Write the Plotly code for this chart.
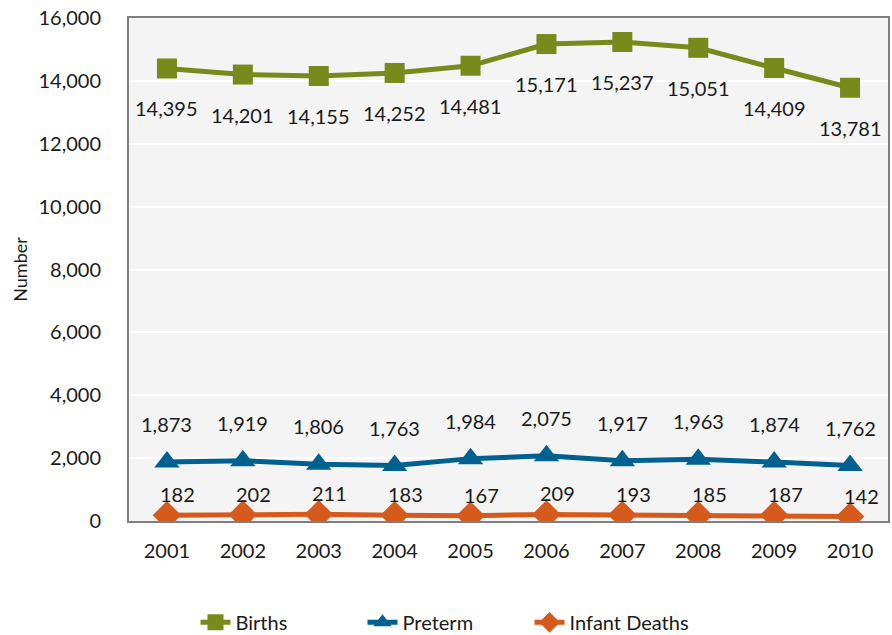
import plotly.graph_objects as go

years = ["2001", "2002", "2003", "2004", "2005", "2006", "2007", "2008", "2009", "2010"]
births = [14395, 14201, 14155, 14252, 14481, 15171, 15237, 15051, 14409, 13781]
preterm = [1873, 1919, 1806, 1763, 1984, 2075, 1917, 1963, 1874, 1762]
infant_deaths = [182, 202, 211, 183, 167, 209, 193, 185, 187, 142]

FONT = "Lato"
TXT = "#1a1a1a"
series = [
    ("Births", births, "#788a1c", "square", 20, -40, 0),
    ("Preterm", preterm, "#00608f", "triangle-up", 22, 38, 0),
    ("Infant Deaths", infant_deaths, "#d55a1c", "diamond", 22, 21, 11),
]

fig = go.Figure()
for name, vals, color, symbol, msize, yshift, xshift in series:
    fig.add_trace(go.Scatter(
        x=years, y=vals, name=name, mode="lines+markers",
        line=dict(color=color, width=5),
        marker=dict(symbol=symbol, size=msize, color=color),
    ))
    # value labels; on a category axis a numeric x is the category index
    for i, v in enumerate(vals):
        fig.add_annotation(
            x=i, y=v, xref="x", yref="y", text=f"{v:,}", showarrow=False,
            yshift=yshift, xshift=xshift,
            font=dict(family=FONT, size=20, color=TXT),
        )

fig.update_layout(
    width=892, height=635,
    margin=dict(l=129, r=2, t=18, b=114),
    paper_bgcolor="white",
    plot_bgcolor="#f4f4f4",
    font=dict(family=FONT, size=20, color=TXT),
    showlegend=True,
    legend=dict(
        orientation="h", xref="container", x=0.5, xanchor="center",
        yref="container", y=0.02, yanchor="middle",
        font=dict(family=FONT, size=20, color=TXT),
        entrywidth=122, entrywidthmode="pixels",
    ),
    xaxis=dict(
        type="category", range=[-0.5, 9.5],
        showline=True, linecolor="#7f7f7f", linewidth=2, mirror=True,
        showgrid=False, ticks="", tickfont=dict(size=20),
        ticklabelstandoff=11,
    ),
    yaxis=dict(
        range=[0, 16000], dtick=2000, tickformat=",",
        showline=True, linecolor="#7f7f7f", linewidth=2, mirror=True,
        gridcolor="white", gridwidth=1.5, zeroline=False,
        ticks="", tickfont=dict(size=20), ticklabelstandoff=22,
        title=dict(text="Number", font=dict(size=18), standoff=6),
    ),
)

fig.write_html("out.html")
